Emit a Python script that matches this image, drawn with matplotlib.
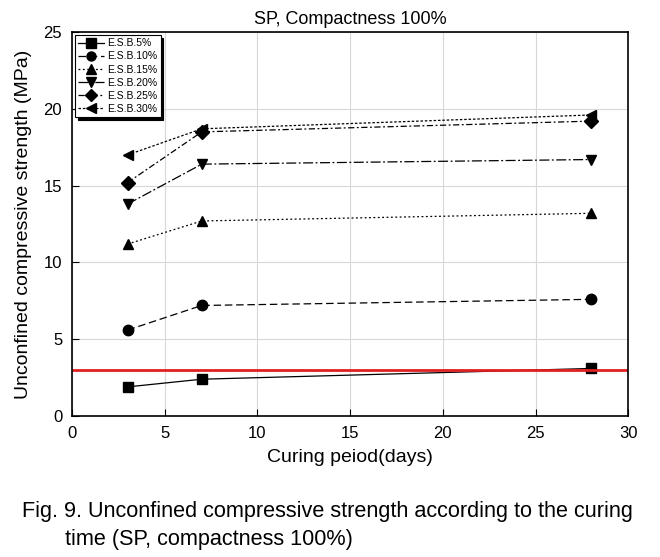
import numpy as np
import matplotlib.pyplot as plt

plt.rcParams['font.family'] = ['Liberation Sans', 'DejaVu Sans']

days = [3, 7, 28]
labels = ['E.S.B.5%', 'E.S.B.10%', 'E.S.B.15%', 'E.S.B.20%', 'E.S.B.25%', 'E.S.B.30%']
esb5 = [1.9, 2.4, 3.1]
esb10 = [5.6, 7.2, 7.6]
esb15 = [11.2, 12.7, 13.2]
esb20 = [13.8, 16.4, 16.7]
esb25 = [15.2, 18.5, 19.2]
esb30 = [17.0, 18.7, 19.6]
limit = 3.0

series = [esb5, esb10, esb15, esb20, esb25, esb30]
markers = ['s', 'o', '^', 'v', 'D', '<']
styles = ['-', (0, (6, 3)), (0, (1.5, 2)), (0, (8, 2, 1.5, 2)), (0, (5, 2, 1.5, 2)), (0, (2, 1.5))]

fig = plt.figure(figsize=(6.6, 5.57), dpi=100)
ax = fig.add_axes([0.109, 0.253, 0.843, 0.6895])

for y, lab, m, ls in zip(series, labels, markers, styles):
    ax.plot(days, y, color='black', linestyle=ls, linewidth=0.9, marker=m,
            markersize=7.5, label=lab)

ax.axhline(limit, color='#e02020', linewidth=2)

ax.set_xlim(0, 30)
ax.set_ylim(0, 25)
ax.set_xticks(np.arange(0, 31, 5))
ax.set_yticks(np.arange(0, 26, 5))
ax.grid(True, color='#d8d8d8', linewidth=0.8)
ax.set_axisbelow(True)
ax.tick_params(direction='in', labelsize=12, length=5, pad=7)
for s in ax.spines.values():
    s.set_linewidth(1.2)

ax.set_title('SP, Compactness 100%', fontsize=13)
ax.set_xlabel('Curing peiod(days)', fontsize=14, labelpad=6)
ax.set_ylabel('Unconfined compressive strength (MPa)', fontsize=14, labelpad=8)

leg = ax.legend(loc='upper left', fontsize=7.5, frameon=True, fancybox=False,
                shadow={'color': 'black', 'alpha': 1}, edgecolor='black',
                borderaxespad=0.3, handlelength=2.5, labelspacing=0.3,
                borderpad=0.3, handletextpad=0.3)
leg.get_frame().set_linewidth(0.8)
for h in leg.legend_handles:
    h.set_markersize(6.5)

fig.text(0.033, 0.072, 'Fig. 9. Unconfined compressive strength according to the curing',
         fontsize=15.6)
fig.text(0.098, 0.022, 'time (SP, compactness 100%)', fontsize=15.6)

fig.savefig('out.png', dpi=100)
